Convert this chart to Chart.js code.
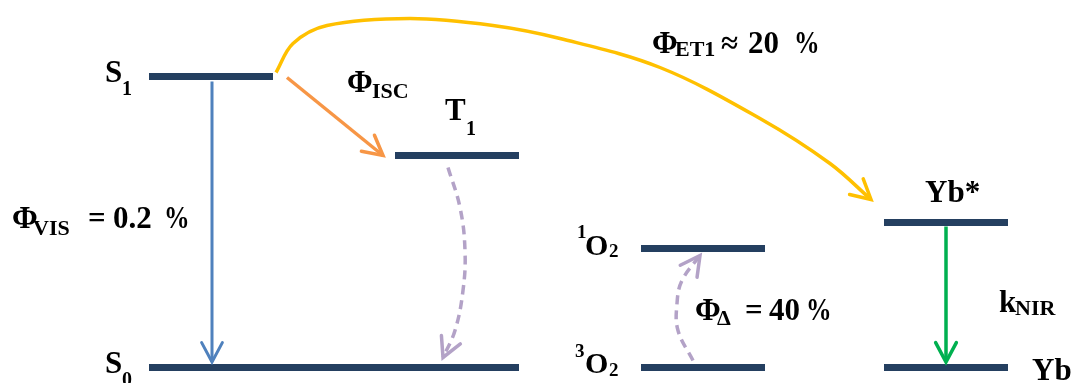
<!DOCTYPE html>
<html>
<head>
<meta charset="utf-8">
<script src="https://cdn.jsdelivr.net/npm/chart.js@4.4.1/dist/chart.umd.min.js"></script>
<style>
  html, body { margin: 0; padding: 0; background: #fff; }
  #wrap { width: 1074px; height: 383px; position: relative; }
</style>
</head>
<body>
<div id="wrap"><canvas id="diagram"></canvas></div>
<script>
// energy levels (x extent in diagram units, energy in arbitrary units above S0)
const levelNames  = ['S0', 'S1', 'T1', '3O2', '1O2', 'Yb', 'Yb*'];
const levelEnergy = [0, 291, 212, 0, 119, 0, 145];
const levelFrom   = [149, 149, 395, 641, 641, 884, 884];
const levelTo     = [519, 273, 519, 765, 765, 1008, 1008];

// transitions
const visX = [212, 212];   const visE = [286, 5.5];     // fluorescence S1 -> S0
const iscX = [287, 383];   const iscE = [290, 212];     // ISC S1 -> T1
const nirX = [946, 946];   const nirE = [141, 5.5];     // Yb* -> Yb emission
const et1X = [276, 293, 327, 410, 493, 560, 660, 760, 830, 871];
const et1E = [295, 324, 342, 349, 342, 329, 300, 249, 204, 168];
const relaxX = [448, 460, 465, 463, 455, 443];
const relaxE = [200, 160, 117, 77, 37, 10];
const sensX = [693, 678, 677, 682, 700];
const sensE = [7, 37, 64, 87, 112];

// text labels: [text, x, energy, role]
const labelParts = [
  ['S', 105, 285.5, 'main'], ['1', 122, 272.5, 'idx'],
  ['Φ', 347, 275.5, 'main'], ['ISC', 372, 269.5, 'sub'],
  ['T', 445, 247.5, 'main'], ['1', 466, 232.5, 'idx'],
  ['Φ', 652, 314.5, 'main'], ['ET1', 675, 311.5, 'sub'], ['≈', 721, 314.5, 'main'],
  ['20', 748, 314.5, 'main'], ['%', 794, 314.5, 'pct'],
  ['Φ', 12, 139.5, 'main'], ['VIS', 33, 132.5, 'sub'], ['=', 88, 139.5, 'main'],
  ['0.2', 113, 139.5, 'main'], ['%', 164, 139.5, 'pct'],
  ['S', 105, -5.5, 'main'], ['0', 122, -18.5, 'idx'],
  ['1', 577, 129.5, 'small'], ['O', 585, 112.5, 'mid'], ['2', 609, 110.5, 'small'],
  ['3', 575, 10.5, 'small'], ['O', 585, -5.5, 'mid'], ['2', 609, -8.5, 'small'],
  ['Φ', 695, 47.5, 'main'], ['Δ', 717, 42.5, 'sub'], ['=', 745, 47.5, 'main'],
  ['40', 769, 47.5, 'main'], ['%', 806, 47.5, 'pct'],
  ['Yb*', 925, 165.5, 'main'],
  ['k', 999, 55.5, 'main'], ['NIR', 1015, 52.5, 'sub'],
  ['Yb', 1032, -12.5, 'main']
];

const fontSizes = { main: 31, sub: 22, idx: 20, mid: 30, small: 19, pct: 32 };
const hScale = { pct: 0.8 };
const navy = '#243f60';

const pts = (xs, es) => xs.map((x, i) => ({ x: x, y: es[i] }));

const datasets = levelNames.map((name, i) => ({
  label: name,
  data: [{ x: levelFrom[i], y: levelEnergy[i] }, { x: levelTo[i], y: levelEnergy[i] }],
  borderColor: navy,
  borderWidth: 7,
  borderCapStyle: 'butt'
}));

const arrow = (label, xs, es, color, extra) => Object.assign({
  label: label,
  data: pts(xs, es),
  borderColor: color,
  borderWidth: 3.5,
  tension: 0,
  arrow: true
}, extra || {});

datasets.push(arrow('vis', visX, visE, '#4f81bd', { borderWidth: 3 }));
datasets.push(arrow('isc', iscX, iscE, '#f79646'));
datasets.push(arrow('nir', nirX, nirE, '#00b050'));
datasets.push(arrow('et1', et1X, et1E, '#ffc000', { tension: 0.35 }));
datasets.push(arrow('relax', relaxX, relaxE, '#b3a2c7', { tension: 0.4, borderDash: [9, 6] }));
datasets.push(arrow('sens', sensX, sensE, '#b3a2c7', { tension: 0.4, borderDash: [9, 6] }));

const arrowHeads = {
  id: 'arrowHeads',
  afterDatasetsDraw(chart) {
    const ctx = chart.ctx;
    chart.data.datasets.forEach((ds, i) => {
      if (!ds.arrow) return;
      const pts = chart.getDatasetMeta(i).data;
      const tip = pts[pts.length - 1];
      let fx = pts[pts.length - 2].x, fy = pts[pts.length - 2].y;
      if (ds.tension && tip.cp1x !== undefined) { fx = tip.cp1x; fy = tip.cp1y; }
      const ang = Math.atan2(tip.y - fy, tip.x - fx);
      const len = 22, spread = 0.49;
      ctx.save();
      ctx.strokeStyle = ds.borderColor;
      ctx.lineWidth = ds.borderWidth;
      ctx.lineCap = 'round';
      ctx.lineJoin = 'miter';
      ctx.setLineDash([]);
      ctx.beginPath();
      ctx.moveTo(tip.x - len * Math.cos(ang - spread), tip.y - len * Math.sin(ang - spread));
      ctx.lineTo(tip.x, tip.y);
      ctx.lineTo(tip.x - len * Math.cos(ang + spread), tip.y - len * Math.sin(ang + spread));
      ctx.stroke();
      ctx.restore();
    });
  }
};

const textLabels = {
  id: 'textLabels',
  afterDraw(chart) {
    const ctx = chart.ctx;
    const xs = chart.scales.x, ys = chart.scales.y;
    ctx.fillStyle = '#000';
    ctx.textAlign = 'left';
    ctx.textBaseline = 'alphabetic';
    labelParts.forEach(([t, x, e, role]) => {
      ctx.save();
      ctx.font = `bold ${fontSizes[role]}px "Liberation Serif", "Times New Roman", serif`;
      ctx.translate(xs.getPixelForValue(x), ys.getPixelForValue(e));
      ctx.scale(hScale[role] || 1, 1);
      ctx.fillText(t, 0, 0);
      ctx.restore();
    });
  }
};

new Chart(document.getElementById('diagram'), {
  type: 'scatter',
  data: { datasets: datasets },
  options: {
    responsive: true,
    maintainAspectRatio: false,
    animation: false,
    showLine: true,
    layout: { padding: 0 },
    elements: { point: { radius: 0, hoverRadius: 0 } },
    plugins: { legend: { display: false }, tooltip: { enabled: false } },
    scales: {
      x: { type: 'linear', display: false, min: 0, max: 1074 },
      y: { type: 'linear', display: false, min: -15.5, max: 367.5 }
    }
  },
  plugins: [arrowHeads, textLabels]
});
</script>
</body>
</html>
